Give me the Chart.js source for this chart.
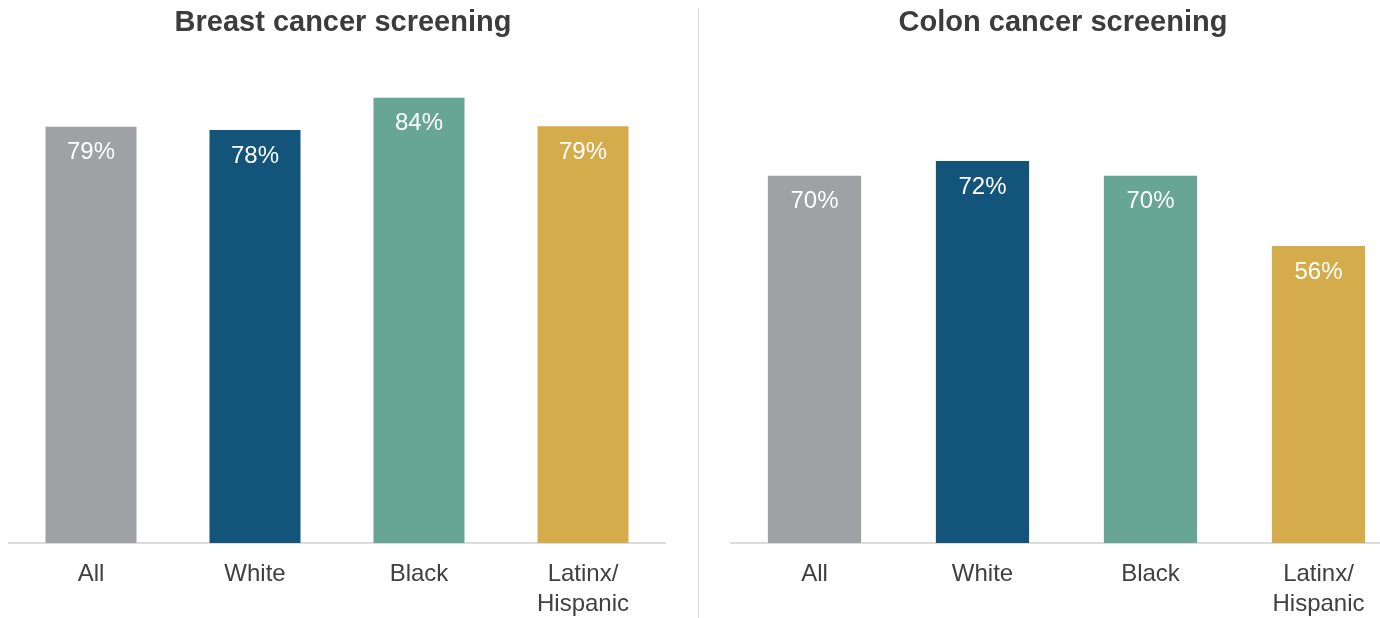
<!DOCTYPE html>
<html>
<head>
<meta charset="utf-8">
<script src="https://cdn.jsdelivr.net/npm/chart.js@4"></script>
<style>
  html, body { margin: 0; padding: 0; background: #fff; overflow: hidden; }
  #wrap { position: relative; width: 1380px; height: 618px; overflow: hidden; }
  .panel { position: absolute; top: 0; height: 640px; }
  #left { left: 0; width: 686px; }
  #right { left: 710px; width: 710px; }
  #divider { position: absolute; left: 698px; top: 8px; width: 1px; height: 610px; background: #dcdcdc; }
</style>
</head>
<body>
<div id="wrap">
  <div class="panel" id="left"><canvas id="breastChart"></canvas></div>
  <div id="divider"></div>
  <div class="panel" id="right"><canvas id="colonChart"></canvas></div>
</div>
<script>
const groups = ['All', 'White', 'Black', ['Latinx/', 'Hispanic']];
const breastValues = [78.9, 78.3, 84.4, 79.0];
const colonValues = [69.6, 72.4, 69.6, 56.3];
const barColors = ['#a0a1a5', '#13557a', '#66a692', '#d4ac4b'];

Chart.defaults.font.family = "'Liberation Sans', Arial, sans-serif";
Chart.defaults.color = '#404040';

// white % labels just under the top of each bar
const barLabels = {
  id: 'barLabels',
  afterDatasetsDraw(chart) {
    const ctx = chart.ctx;
    const meta = chart.getDatasetMeta(0);
    ctx.save();
    ctx.fillStyle = '#ffffff';
    ctx.font = "24px 'Liberation Sans', Arial, sans-serif";
    ctx.textAlign = 'center';
    ctx.textBaseline = 'middle';
    meta.data.forEach((bar, i) => {
      const v = chart.data.datasets[0].data[i];
      ctx.fillText(Math.round(v) + '%', bar.x, bar.y + 26);
    });
    ctx.restore();
  }
};

// y axis is invisible; its side and width only nudge the title off the plot centre
function makeChart(id, title, values, pad, ySide, yWidth) {
  return new Chart(document.getElementById(id), {
    type: 'bar',
    data: {
      labels: groups,
      datasets: [{
        data: values,
        backgroundColor: barColors,
        borderWidth: 0,
        barPercentage: 0.555,
        categoryPercentage: 1
      }]
    },
    options: {
      responsive: true,
      maintainAspectRatio: false,
      animation: false,
      layout: { padding: pad },
      plugins: {
        legend: { display: false },
        tooltip: { enabled: false },
        title: {
          display: true,
          text: title,
          color: '#3c3c3c',
          font: { size: 29, weight: 'bold', lineHeight: 1.2 },
          padding: { top: 6, bottom: 9 }
        }
      },
      scales: {
        x: {
          grid: { display: false, drawTicks: false },
          border: { display: true, color: '#dcdcdc', width: 2 },
          ticks: {
            font: { size: 24, lineHeight: 1.25 },
            color: '#404040',
            padding: 16,
            maxRotation: 0,
            autoSkip: false
          }
        },
        y: {
          position: ySide,
          min: 0,
          max: 93.5,
          grid: { display: false },
          border: { display: false },
          ticks: { display: false },
          afterFit(scale) { scale.width = yWidth; }
        }
      }
    },
    plugins: [barLabels]
  });
}

makeChart('breastChart', 'Breast cancer screening', breastValues, { left: 9, right: 9, top: 0, bottom: 5 }, 'right', 12);
makeChart('colonChart', 'Colon cancer screening', colonValues, { left: 13.5, right: 17.5, top: 0, bottom: 5 }, 'left', 7);
</script>
</body>
</html>
